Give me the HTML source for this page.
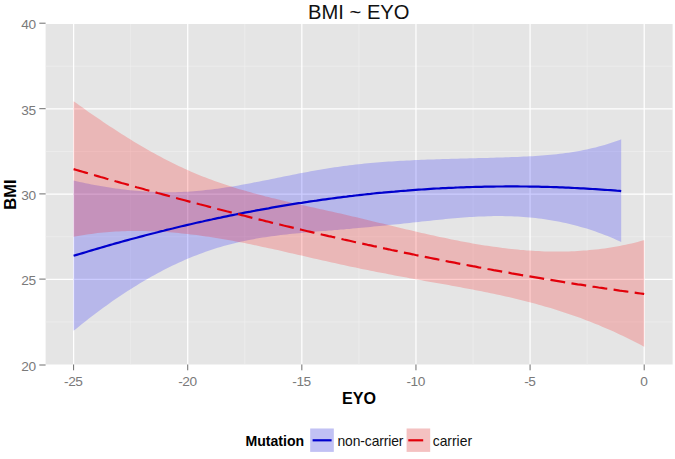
<!DOCTYPE html>
<html>
<head>
<meta charset="utf-8">
<title>BMI ~ EYO</title>
<style>
  html, body { margin: 0; padding: 0; background: #ffffff; }
  body { width: 675px; height: 459px; overflow: hidden; }
  svg { display: block; }
  svg text { font-family: "Liberation Sans", sans-serif; }
  .tick { font-size: 13.7px; fill: #7a7a7a; letter-spacing: -0.45px; }
  .leg { font-size: 13.9px; fill: #111111; letter-spacing: -0.12px; }
</style>
</head>
<body>
<svg width="675" height="459" viewBox="0 0 675 459">
  <rect x="0" y="0" width="675" height="459" fill="#ffffff"/>
  <!-- title -->
  <text x="358.8" y="18.6" text-anchor="middle" font-size="19.3" textLength="101.4" lengthAdjust="spacingAndGlyphs" fill="#111111">BMI ~ EYO</text>
  <!-- panel -->
  <rect x="45.6" y="24.0" width="627.00" height="340.50" fill="#e5e5e5"/>
  <g shape-rendering="auto">
    <line x1="130.66" x2="130.66" y1="24.0" y2="364.5" stroke="#f0f0f0" stroke-width="0.6"/>
  <line x1="244.78" x2="244.78" y1="24.0" y2="364.5" stroke="#f0f0f0" stroke-width="0.6"/>
  <line x1="358.90" x2="358.90" y1="24.0" y2="364.5" stroke="#f0f0f0" stroke-width="0.6"/>
  <line x1="473.02" x2="473.02" y1="24.0" y2="364.5" stroke="#f0f0f0" stroke-width="0.6"/>
  <line x1="587.14" x2="587.14" y1="24.0" y2="364.5" stroke="#f0f0f0" stroke-width="0.6"/>
  <line x1="45.6" x2="672.6" y1="321.90" y2="321.90" stroke="#f0f0f0" stroke-width="0.6"/>
  <line x1="45.6" x2="672.6" y1="236.70" y2="236.70" stroke="#f0f0f0" stroke-width="0.6"/>
  <line x1="45.6" x2="672.6" y1="151.50" y2="151.50" stroke="#f0f0f0" stroke-width="0.6"/>
  <line x1="45.6" x2="672.6" y1="66.30" y2="66.30" stroke="#f0f0f0" stroke-width="0.6"/>
  <line x1="73.60" x2="73.60" y1="24.0" y2="364.5" stroke="#ffffff" stroke-width="1.25"/>
  <line x1="187.72" x2="187.72" y1="24.0" y2="364.5" stroke="#ffffff" stroke-width="1.25"/>
  <line x1="301.84" x2="301.84" y1="24.0" y2="364.5" stroke="#ffffff" stroke-width="1.25"/>
  <line x1="415.96" x2="415.96" y1="24.0" y2="364.5" stroke="#ffffff" stroke-width="1.25"/>
  <line x1="530.08" x2="530.08" y1="24.0" y2="364.5" stroke="#ffffff" stroke-width="1.25"/>
  <line x1="644.20" x2="644.20" y1="24.0" y2="364.5" stroke="#ffffff" stroke-width="1.25"/>
  <line x1="45.6" x2="672.6" y1="279.30" y2="279.30" stroke="#ffffff" stroke-width="1.25"/>
  <line x1="45.6" x2="672.6" y1="194.10" y2="194.10" stroke="#ffffff" stroke-width="1.25"/>
  <line x1="45.6" x2="672.6" y1="108.90" y2="108.90" stroke="#ffffff" stroke-width="1.25"/>
  </g>
  <clipPath id="pc"><rect x="45.6" y="24.0" width="627.00" height="340.50"/></clipPath>
  <g clip-path="url(#pc)">
    <polygon points="73.6,180.6 76.6,181.3 79.6,181.9 82.6,182.6 85.6,183.2 88.6,183.8 91.6,184.4 94.6,185.0 97.6,185.5 100.6,186.1 103.6,186.6 106.6,187.1 109.6,187.5 112.6,188.0 115.6,188.4 118.6,188.8 121.6,189.2 124.6,189.6 127.6,189.9 130.6,190.2 133.6,190.5 136.6,190.8 139.6,191.1 142.6,191.3 145.6,191.5 148.6,191.7 151.6,191.8 154.6,192.0 157.6,192.1 160.6,192.1 163.6,192.2 166.6,192.2 169.6,192.2 172.6,192.2 175.6,192.2 178.6,192.1 181.6,192.0 184.6,191.8 187.6,191.7 190.6,191.5 193.6,191.3 196.6,191.0 199.6,190.8 202.6,190.5 205.6,190.1 208.6,189.8 211.6,189.4 214.6,189.1 217.6,188.7 220.6,188.2 223.6,187.8 226.6,187.3 229.6,186.9 232.6,186.4 235.6,185.9 238.6,185.4 241.6,184.8 244.6,184.3 247.6,183.7 250.6,183.2 253.6,182.6 256.6,182.0 259.6,181.4 262.6,180.8 265.6,180.3 268.6,179.7 271.6,179.0 274.6,178.4 277.6,177.8 280.6,177.2 283.6,176.6 286.6,176.0 289.6,175.4 292.6,174.8 295.6,174.2 298.6,173.6 301.6,173.0 304.6,172.5 307.6,171.9 310.6,171.3 313.6,170.8 316.6,170.3 319.6,169.7 322.6,169.2 325.6,168.7 328.6,168.2 331.6,167.8 334.6,167.3 337.6,166.9 340.6,166.5 343.6,166.0 346.6,165.7 349.6,165.3 352.6,164.9 355.6,164.6 358.6,164.2 361.6,163.9 364.6,163.6 367.6,163.3 370.6,163.0 373.6,162.8 376.6,162.5 379.6,162.3 382.6,162.0 385.6,161.8 388.6,161.6 391.6,161.4 394.6,161.2 397.6,161.0 400.6,160.8 403.6,160.7 406.6,160.5 409.6,160.4 412.6,160.2 415.6,160.1 418.6,159.9 421.6,159.8 424.6,159.7 427.6,159.6 430.6,159.5 433.6,159.4 436.6,159.3 439.6,159.2 442.6,159.1 445.6,159.0 448.6,158.9 451.6,158.8 454.6,158.7 457.6,158.7 460.6,158.6 463.6,158.5 466.6,158.4 469.6,158.3 472.6,158.3 475.6,158.2 478.6,158.1 481.6,158.0 484.6,158.0 487.6,157.9 490.6,157.8 493.6,157.7 496.6,157.6 499.6,157.5 502.6,157.4 505.6,157.3 508.6,157.2 511.6,157.1 514.6,157.0 517.6,156.9 520.6,156.8 523.6,156.6 526.6,156.5 529.6,156.3 532.6,156.2 535.6,156.0 538.6,155.8 541.6,155.6 544.6,155.3 547.6,155.1 550.6,154.8 553.6,154.5 556.6,154.2 559.6,153.8 562.6,153.5 565.6,153.1 568.6,152.7 571.6,152.2 574.6,151.7 577.6,151.2 580.6,150.7 583.6,150.1 586.6,149.5 589.6,148.8 592.6,148.1 595.6,147.4 598.6,146.6 601.6,145.8 604.6,144.9 607.6,144.0 610.6,143.1 613.6,142.1 616.6,141.0 619.6,139.9 621.2,139.3 621.2,242.0 619.6,241.3 616.6,239.9 613.6,238.6 610.6,237.3 607.6,236.1 604.6,234.9 601.6,233.8 598.6,232.7 595.6,231.6 592.6,230.6 589.6,229.6 586.6,228.6 583.6,227.7 580.6,226.9 577.6,226.0 574.6,225.2 571.6,224.5 568.6,223.8 565.6,223.1 562.6,222.4 559.6,221.8 556.6,221.2 553.6,220.7 550.6,220.2 547.6,219.7 544.6,219.2 541.6,218.8 538.6,218.4 535.6,218.1 532.6,217.8 529.6,217.5 526.6,217.2 523.6,217.0 520.6,216.8 517.6,216.6 514.6,216.5 511.6,216.3 508.6,216.2 505.6,216.2 502.6,216.1 499.6,216.1 496.6,216.1 493.6,216.1 490.6,216.2 487.6,216.3 484.6,216.4 481.6,216.5 478.6,216.6 475.6,216.8 472.6,216.9 469.6,217.1 466.6,217.3 463.6,217.6 460.6,217.8 457.6,218.0 454.6,218.3 451.6,218.6 448.6,218.8 445.6,219.1 442.6,219.4 439.6,219.7 436.6,220.0 433.6,220.3 430.6,220.7 427.6,221.0 424.6,221.3 421.6,221.6 418.6,221.9 415.6,222.3 412.6,222.6 409.6,222.9 406.6,223.2 403.6,223.5 400.6,223.9 397.6,224.2 394.6,224.5 391.6,224.8 388.6,225.1 385.6,225.4 382.6,225.7 379.6,226.0 376.6,226.3 373.6,226.6 370.6,226.9 367.6,227.2 364.6,227.5 361.6,227.8 358.6,228.0 355.6,228.3 352.6,228.6 349.6,228.9 346.6,229.1 343.6,229.4 340.6,229.6 337.6,229.9 334.6,230.1 331.6,230.4 328.6,230.6 325.6,230.9 322.6,231.1 319.6,231.3 316.6,231.6 313.6,231.8 310.6,232.1 307.6,232.4 304.6,232.6 301.6,232.9 298.6,233.2 295.6,233.5 292.6,233.8 289.6,234.1 286.6,234.4 283.6,234.8 280.6,235.1 277.6,235.5 274.6,235.9 271.6,236.3 268.6,236.7 265.6,237.2 262.6,237.6 259.6,238.1 256.6,238.6 253.6,239.2 250.6,239.7 247.6,240.3 244.6,240.9 241.6,241.6 238.6,242.2 235.6,242.9 232.6,243.7 229.6,244.4 226.6,245.2 223.6,246.1 220.6,246.9 217.6,247.8 214.6,248.8 211.6,249.7 208.6,250.8 205.6,251.8 202.6,252.9 199.6,254.0 196.6,255.2 193.6,256.3 190.6,257.6 187.6,258.8 184.6,260.1 181.6,261.5 178.6,262.8 175.6,264.2 172.6,265.6 169.6,267.1 166.6,268.6 163.6,270.1 160.6,271.7 157.6,273.3 154.6,274.9 151.6,276.6 148.6,278.3 145.6,280.0 142.6,281.8 139.6,283.6 136.6,285.4 133.6,287.3 130.6,289.2 127.6,291.1 124.6,293.0 121.6,295.0 118.6,297.0 115.6,299.1 112.6,301.1 109.6,303.3 106.6,305.4 103.6,307.6 100.6,309.8 97.6,312.0 94.6,314.2 91.6,316.5 88.6,318.8 85.6,321.2 82.6,323.5 79.6,326.0 76.6,328.4 73.6,330.8" fill="#0000ff" fill-opacity="0.2"/>
    <polygon points="73.6,101.2 76.6,103.3 79.6,105.5 82.6,107.6 85.6,109.8 88.6,111.9 91.6,114.0 94.6,116.0 97.6,118.1 100.6,120.1 103.6,122.2 106.6,124.2 109.6,126.2 112.6,128.1 115.6,130.1 118.6,132.0 121.6,134.0 124.6,135.8 127.6,137.7 130.6,139.6 133.6,141.4 136.6,143.2 139.6,145.0 142.6,146.8 145.6,148.5 148.6,150.2 151.6,151.9 154.6,153.6 157.6,155.2 160.6,156.8 163.6,158.4 166.6,160.0 169.6,161.5 172.6,163.0 175.6,164.5 178.6,165.9 181.6,167.3 184.6,168.7 187.6,170.1 190.6,171.4 193.6,172.7 196.6,173.9 199.6,175.2 202.6,176.4 205.6,177.5 208.6,178.7 211.6,179.8 214.6,180.9 217.6,182.0 220.6,183.0 223.6,184.1 226.6,185.1 229.6,186.0 232.6,187.0 235.6,187.9 238.6,188.9 241.6,189.8 244.6,190.6 247.6,191.5 250.6,192.3 253.6,193.2 256.6,194.0 259.6,194.8 262.6,195.6 265.6,196.4 268.6,197.1 271.6,197.9 274.6,198.6 277.6,199.3 280.6,200.1 283.6,200.8 286.6,201.5 289.6,202.2 292.6,202.9 295.6,203.6 298.6,204.2 301.6,204.9 304.6,205.6 307.6,206.2 310.6,206.9 313.6,207.6 316.6,208.2 319.6,208.9 322.6,209.6 325.6,210.2 328.6,210.9 331.6,211.6 334.6,212.3 337.6,212.9 340.6,213.6 343.6,214.3 346.6,215.0 349.6,215.7 352.6,216.4 355.6,217.1 358.6,217.8 361.6,218.6 364.6,219.3 367.6,220.0 370.6,220.7 373.6,221.4 376.6,222.2 379.6,222.9 382.6,223.6 385.6,224.3 388.6,225.1 391.6,225.8 394.6,226.5 397.6,227.2 400.6,227.9 403.6,228.7 406.6,229.4 409.6,230.1 412.6,230.8 415.6,231.5 418.6,232.2 421.6,232.9 424.6,233.5 427.6,234.2 430.6,234.9 433.6,235.6 436.6,236.2 439.6,236.9 442.6,237.5 445.6,238.1 448.6,238.8 451.6,239.4 454.6,240.0 457.6,240.6 460.6,241.2 463.6,241.7 466.6,242.3 469.6,242.8 472.6,243.4 475.6,243.9 478.6,244.4 481.6,244.9 484.6,245.4 487.6,245.8 490.6,246.3 493.6,246.7 496.6,247.1 499.6,247.5 502.6,247.9 505.6,248.3 508.6,248.7 511.6,249.0 514.6,249.3 517.6,249.6 520.6,249.9 523.6,250.1 526.6,250.4 529.6,250.6 532.6,250.8 535.6,251.0 538.6,251.1 541.6,251.3 544.6,251.4 547.6,251.5 550.6,251.5 553.6,251.6 556.6,251.6 559.6,251.6 562.6,251.5 565.6,251.5 568.6,251.4 571.6,251.3 574.6,251.2 577.6,251.0 580.6,250.8 583.6,250.6 586.6,250.4 589.6,250.1 592.6,249.8 595.6,249.5 598.6,249.2 601.6,248.8 604.6,248.4 607.6,248.0 610.6,247.5 613.6,247.0 616.6,246.5 619.6,245.9 622.6,245.3 625.6,244.7 628.6,244.1 631.6,243.4 634.6,242.7 637.6,241.9 640.6,241.1 643.6,240.3 644.2,240.2 644.2,346.7 643.6,346.4 640.6,344.8 637.6,343.2 634.6,341.7 631.6,340.2 628.6,338.7 625.6,337.2 622.6,335.8 619.6,334.4 616.6,333.0 613.6,331.6 610.6,330.3 607.6,329.0 604.6,327.7 601.6,326.4 598.6,325.1 595.6,323.9 592.6,322.7 589.6,321.5 586.6,320.4 583.6,319.3 580.6,318.1 577.6,317.1 574.6,316.0 571.6,314.9 568.6,313.9 565.6,312.9 562.6,311.9 559.6,310.9 556.6,310.0 553.6,309.1 550.6,308.1 547.6,307.2 544.6,306.4 541.6,305.5 538.6,304.7 535.6,303.8 532.6,303.0 529.6,302.2 526.6,301.4 523.6,300.7 520.6,299.9 517.6,299.2 514.6,298.5 511.6,297.8 508.6,297.1 505.6,296.4 502.6,295.7 499.6,295.1 496.6,294.4 493.6,293.8 490.6,293.2 487.6,292.5 484.6,291.9 481.6,291.3 478.6,290.7 475.6,290.2 472.6,289.6 469.6,289.0 466.6,288.4 463.6,287.9 460.6,287.3 457.6,286.8 454.6,286.2 451.6,285.7 448.6,285.1 445.6,284.6 442.6,284.1 439.6,283.5 436.6,283.0 433.6,282.5 430.6,281.9 427.6,281.4 424.6,280.9 421.6,280.3 418.6,279.8 415.6,279.2 412.6,278.7 409.6,278.2 406.6,277.6 403.6,277.0 400.6,276.5 397.6,275.9 394.6,275.4 391.6,274.8 388.6,274.2 385.6,273.6 382.6,273.1 379.6,272.5 376.6,271.9 373.6,271.3 370.6,270.7 367.6,270.1 364.6,269.5 361.6,268.9 358.6,268.2 355.6,267.6 352.6,267.0 349.6,266.4 346.6,265.7 343.6,265.1 340.6,264.4 337.6,263.8 334.6,263.1 331.6,262.4 328.6,261.8 325.6,261.1 322.6,260.4 319.6,259.7 316.6,259.0 313.6,258.4 310.6,257.7 307.6,257.0 304.6,256.3 301.6,255.6 298.6,254.9 295.6,254.2 292.6,253.5 289.6,252.9 286.6,252.2 283.6,251.5 280.6,250.8 277.6,250.1 274.6,249.5 271.6,248.8 268.6,248.2 265.6,247.5 262.6,246.9 259.6,246.2 256.6,245.6 253.6,245.0 250.6,244.3 247.6,243.7 244.6,243.1 241.6,242.5 238.6,242.0 235.6,241.4 232.6,240.8 229.6,240.3 226.6,239.8 223.6,239.2 220.6,238.7 217.6,238.2 214.6,237.7 211.6,237.3 208.6,236.8 205.6,236.4 202.6,235.9 199.6,235.5 196.6,235.1 193.6,234.8 190.6,234.4 187.6,234.0 184.6,233.7 181.6,233.4 178.6,233.1 175.6,232.8 172.6,232.5 169.6,232.3 166.6,232.1 163.6,231.9 160.6,231.7 157.6,231.5 154.6,231.4 151.6,231.3 148.6,231.2 145.6,231.1 142.6,231.0 139.6,231.0 136.6,231.0 133.6,231.0 130.6,231.0 127.6,231.1 124.6,231.2 121.6,231.3 118.6,231.4 115.6,231.6 112.6,231.8 109.6,232.0 106.6,232.2 103.6,232.5 100.6,232.8 97.6,233.1 94.6,233.5 91.6,233.9 88.6,234.3 85.6,234.7 82.6,235.2 79.6,235.7 76.6,236.2 73.6,236.8" fill="#ff0000" fill-opacity="0.2"/>
    <polyline points="73.6,255.8 76.6,254.9 79.6,254.0 82.6,253.1 85.6,252.2 88.6,251.3 91.6,250.4 94.6,249.5 97.6,248.6 100.6,247.7 103.6,246.9 106.6,246.0 109.6,245.1 112.6,244.3 115.6,243.4 118.6,242.6 121.6,241.7 124.6,240.9 127.6,240.1 130.6,239.3 133.6,238.5 136.6,237.7 139.6,236.9 142.6,236.1 145.6,235.3 148.6,234.5 151.6,233.7 154.6,233.0 157.6,232.2 160.6,231.4 163.6,230.7 166.6,229.9 169.6,229.2 172.6,228.5 175.6,227.7 178.6,227.0 181.6,226.3 184.6,225.6 187.6,224.9 190.6,224.2 193.6,223.5 196.6,222.8 199.6,222.1 202.6,221.5 205.6,220.8 208.6,220.1 211.6,219.5 214.6,218.8 217.6,218.2 220.6,217.6 223.6,216.9 226.6,216.3 229.6,215.7 232.6,215.1 235.6,214.5 238.6,213.9 241.6,213.3 244.6,212.7 247.6,212.1 250.6,211.6 253.6,211.0 256.6,210.4 259.6,209.9 262.6,209.3 265.6,208.8 268.6,208.3 271.6,207.7 274.6,207.2 277.6,206.7 280.6,206.2 283.6,205.7 286.6,205.2 289.6,204.7 292.6,204.2 295.6,203.7 298.6,203.2 301.6,202.8 304.6,202.3 307.6,201.9 310.6,201.4 313.6,201.0 316.6,200.6 319.6,200.1 322.6,199.7 325.6,199.3 328.6,198.9 331.6,198.5 334.6,198.1 337.6,197.7 340.6,197.3 343.6,196.9 346.6,196.6 349.6,196.2 352.6,195.9 355.6,195.5 358.6,195.2 361.6,194.8 364.6,194.5 367.6,194.2 370.6,193.9 373.6,193.5 376.6,193.2 379.6,192.9 382.6,192.7 385.6,192.4 388.6,192.1 391.6,191.8 394.6,191.6 397.6,191.3 400.6,191.0 403.6,190.8 406.6,190.6 409.6,190.3 412.6,190.1 415.6,189.9 418.6,189.7 421.6,189.5 424.6,189.3 427.6,189.1 430.6,188.9 433.6,188.7 436.6,188.5 439.6,188.4 442.6,188.2 445.6,188.1 448.6,187.9 451.6,187.8 454.6,187.7 457.6,187.5 460.6,187.4 463.6,187.3 466.6,187.2 469.6,187.1 472.6,187.0 475.6,186.9 478.6,186.8 481.6,186.8 484.6,186.7 487.6,186.6 490.6,186.6 493.6,186.6 496.6,186.5 499.6,186.5 502.6,186.5 505.6,186.4 508.6,186.4 511.6,186.4 514.6,186.4 517.6,186.4 520.6,186.5 523.6,186.5 526.6,186.5 529.6,186.6 532.6,186.6 535.6,186.7 538.6,186.7 541.6,186.8 544.6,186.9 547.6,186.9 550.6,187.0 553.6,187.1 556.6,187.2 559.6,187.3 562.6,187.4 565.6,187.6 568.6,187.7 571.6,187.8 574.6,188.0 577.6,188.1 580.6,188.3 583.6,188.4 586.6,188.6 589.6,188.8 592.6,189.0 595.6,189.2 598.6,189.4 601.6,189.6 604.6,189.8 607.6,190.0 610.6,190.2 613.6,190.4 616.6,190.7 619.6,190.9 621.2,191.1" fill="none" stroke="#0000cd" stroke-width="2.2" stroke-linejoin="round"/>
    <polyline points="73.6,169.1 76.6,170.0 79.6,170.9 82.6,171.7 85.6,172.6 88.6,173.5 91.6,174.4 94.6,175.2 97.6,176.1 100.6,177.0 103.6,177.8 106.6,178.7 109.6,179.5 112.6,180.4 115.6,181.3 118.6,182.1 121.6,183.0 124.6,183.8 127.6,184.6 130.6,185.5 133.6,186.3 136.6,187.2 139.6,188.0 142.6,188.8 145.6,189.7 148.6,190.5 151.6,191.3 154.6,192.1 157.6,193.0 160.6,193.8 163.6,194.6 166.6,195.4 169.6,196.2 172.6,197.1 175.6,197.9 178.6,198.7 181.6,199.5 184.6,200.3 187.6,201.1 190.6,201.9 193.6,202.7 196.6,203.5 199.6,204.3 202.6,205.0 205.6,205.8 208.6,206.6 211.6,207.4 214.6,208.2 217.6,209.0 220.6,209.7 223.6,210.5 226.6,211.3 229.6,212.0 232.6,212.8 235.6,213.6 238.6,214.3 241.6,215.1 244.6,215.8 247.6,216.6 250.6,217.4 253.6,218.1 256.6,218.9 259.6,219.6 262.6,220.3 265.6,221.1 268.6,221.8 271.6,222.6 274.6,223.3 277.6,224.0 280.6,224.7 283.6,225.5 286.6,226.2 289.6,226.9 292.6,227.6 295.6,228.3 298.6,229.1 301.6,229.8 304.6,230.5 307.6,231.2 310.6,231.9 313.6,232.6 316.6,233.3 319.6,234.0 322.6,234.7 325.6,235.4 328.6,236.1 331.6,236.7 334.6,237.4 337.6,238.1 340.6,238.8 343.6,239.5 346.6,240.1 349.6,240.8 352.6,241.5 355.6,242.2 358.6,242.8 361.6,243.5 364.6,244.1 367.6,244.8 370.6,245.4 373.6,246.1 376.6,246.7 379.6,247.4 382.6,248.0 385.6,248.7 388.6,249.3 391.6,250.0 394.6,250.6 397.6,251.2 400.6,251.9 403.6,252.5 406.6,253.1 409.6,253.7 412.6,254.3 415.6,255.0 418.6,255.6 421.6,256.2 424.6,256.8 427.6,257.4 430.6,258.0 433.6,258.6 436.6,259.2 439.6,259.8 442.6,260.4 445.6,261.0 448.6,261.6 451.6,262.1 454.6,262.7 457.6,263.3 460.6,263.9 463.6,264.5 466.6,265.0 469.6,265.6 472.6,266.2 475.6,266.7 478.6,267.3 481.6,267.8 484.6,268.4 487.6,269.0 490.6,269.5 493.6,270.1 496.6,270.6 499.6,271.1 502.6,271.7 505.6,272.2 508.6,272.7 511.6,273.3 514.6,273.8 517.6,274.3 520.6,274.9 523.6,275.4 526.6,275.9 529.6,276.4 532.6,276.9 535.6,277.4 538.6,277.9 541.6,278.4 544.6,278.9 547.6,279.4 550.6,279.9 553.6,280.4 556.6,280.9 559.6,281.4 562.6,281.9 565.6,282.4 568.6,282.8 571.6,283.3 574.6,283.8 577.6,284.3 580.6,284.7 583.6,285.2 586.6,285.7 589.6,286.1 592.6,286.6 595.6,287.0 598.6,287.5 601.6,287.9 604.6,288.4 607.6,288.8 610.6,289.3 613.6,289.7 616.6,290.1 619.6,290.6 622.6,291.0 625.6,291.4 628.6,291.8 631.6,292.2 634.6,292.7 637.6,293.1 640.6,293.5 643.6,293.9 644.2,294.0" fill="none" stroke="#e2000a" stroke-width="2.2" stroke-dasharray="14.9 6.4" stroke-linejoin="round"/>
  </g>
  <!-- axes -->
  <g>
    <line x1="73.60" x2="73.60" y1="364.5" y2="370.3" stroke="#6e6e6e" stroke-width="1.0"/>
  <line x1="187.72" x2="187.72" y1="364.5" y2="370.3" stroke="#6e6e6e" stroke-width="1.0"/>
  <line x1="301.84" x2="301.84" y1="364.5" y2="370.3" stroke="#6e6e6e" stroke-width="1.0"/>
  <line x1="415.96" x2="415.96" y1="364.5" y2="370.3" stroke="#6e6e6e" stroke-width="1.0"/>
  <line x1="530.08" x2="530.08" y1="364.5" y2="370.3" stroke="#6e6e6e" stroke-width="1.0"/>
  <line x1="644.20" x2="644.20" y1="364.5" y2="370.3" stroke="#6e6e6e" stroke-width="1.0"/>
  <line x1="39.300000000000004" x2="45.6" y1="365.00" y2="365.00" stroke="#6e6e6e" stroke-width="1.0"/>
  <line x1="39.300000000000004" x2="45.6" y1="279.10" y2="279.10" stroke="#6e6e6e" stroke-width="1.0"/>
  <line x1="39.300000000000004" x2="45.6" y1="193.90" y2="193.90" stroke="#6e6e6e" stroke-width="1.0"/>
  <line x1="39.300000000000004" x2="45.6" y1="108.70" y2="108.70" stroke="#6e6e6e" stroke-width="1.0"/>
  <line x1="39.300000000000004" x2="45.6" y1="23.20" y2="23.20" stroke="#6e6e6e" stroke-width="1.0"/>
  </g>
  <g class="tick">
    <text x="73.30" y="386.3" text-anchor="middle">-25</text>
  <text x="187.42" y="386.3" text-anchor="middle">-20</text>
  <text x="301.54" y="386.3" text-anchor="middle">-15</text>
  <text x="415.66" y="386.3" text-anchor="middle">-10</text>
  <text x="529.78" y="386.3" text-anchor="middle">-5</text>
  <text x="643.90" y="386.3" text-anchor="middle">0</text>
  <text x="35.6" y="370.80" text-anchor="end">20</text>
  <text x="35.6" y="285.20" text-anchor="end">25</text>
  <text x="35.6" y="200.00" text-anchor="end">30</text>
  <text x="35.6" y="114.80" text-anchor="end">35</text>
  <text x="35.6" y="29.00" text-anchor="end">40</text>
  </g>
  <!-- axis titles -->
  <text x="359.1" y="404.0" text-anchor="middle" font-size="16.1" font-weight="bold" fill="#000000">EYO</text>
  <text transform="translate(16.1,194.6) rotate(-90)" text-anchor="middle" font-size="16.0" textLength="30.2" lengthAdjust="spacingAndGlyphs" font-weight="bold" fill="#000000">BMI</text>
  <!-- legend -->
  <text x="245.4" y="445.6" font-size="14.1" font-weight="bold" fill="#000000">Mutation</text>
  <rect x="310.2" y="428.5" width="23.6" height="23.4" fill="#f2f2f2"/>
  <rect x="310.2" y="428.5" width="23.6" height="23.4" fill="#0000ff" fill-opacity="0.2"/>
  <line x1="312.6" x2="331.6" y1="440.3" y2="440.3" stroke="#0000cd" stroke-width="2.2"/>
  <text class="leg" x="337.5" y="445.9">non-carrier</text>
  <rect x="406.6" y="428.5" width="23.6" height="23.4" fill="#f2f2f2"/>
  <rect x="406.6" y="428.5" width="23.6" height="23.4" fill="#ff0000" fill-opacity="0.2"/>
  <line x1="408.3" x2="428.0" y1="440.3" y2="440.3" stroke="#e2000a" stroke-width="2.2" stroke-dasharray="14.9 6.4"/>
  <text class="leg" x="432.7" y="445.9" style="letter-spacing:0">carrier</text>
</svg>
</body>
</html>
